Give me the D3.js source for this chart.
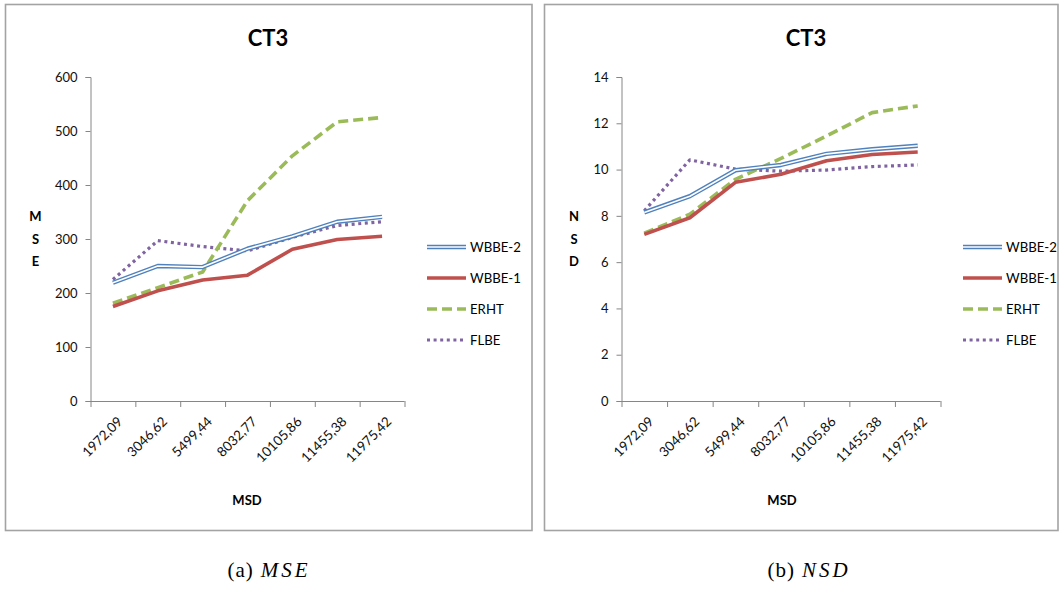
<!DOCTYPE html>
<html>
<head>
<meta charset="utf-8">
<script src="https://cdn.jsdelivr.net/npm/d3@7"></script>
<style>
  html, body { margin: 0; padding: 0; background: #fff; }
  svg { display: block; }
  .tick text { font-family: Lato, "Open Sans", sans-serif; }
</style>
</head>
<body>
<svg id="fig" width="1060" height="596"></svg>
<script>
// MSD categories shared by both panels
const categories = ["1972,09", "3046,62", "5499,44", "8032,77", "10105,86", "11455,38", "11975,42"];
const seriesNames = ["WBBE-2", "WBBE-1", "ERHT", "FLBE"];

// Panel (a): MSE
const mseWBBE2 = [219, 250, 248, 282, 305, 332, 341];
const mseWBBE1 = [175, 204, 224, 233, 281, 299, 305];
const mseERHT  = [181, 210, 239, 371, 454, 517, 525];
const mseFLBE  = [225, 297, 286, 278, 303, 325, 332];
const mseTicks = [0, 100, 200, 300, 400, 500, 600];

// Panel (b): NSD
const nsdWBBE2 = [8.15, 8.85, 9.97, 10.2, 10.68, 10.88, 11.03];
const nsdWBBE1 = [7.2, 7.92, 9.45, 9.8, 10.38, 10.65, 10.76];
const nsdERHT  = [7.25, 8.07, 9.58, 10.48, 11.45, 12.46, 12.75];
const nsdFLBE  = [8.22, 10.42, 10.02, 9.93, 9.98, 10.13, 10.2];
const nsdTicks = [0, 2, 4, 6, 8, 10, 12, 14];

const FONT = "Lato, 'Open Sans', sans-serif";
const SERIF = "'Liberation Serif', 'DejaVu Serif', serif";

// line appearance per series
const styles = {
  "WBBE-2": { color: "#4f81bd", width: 4.4, double: true },
  "WBBE-1": { color: "#c0504d", width: 3.6 },
  "ERHT":   { color: "#9bbb59", width: 3.6, dash: "10,5" },
  "FLBE":   { color: "#8064a2", width: 3.2, dash: "3,3.6" }
};

const svg = d3.select("#fig");

function drawStroke(g, pathD, name) {
  const s = styles[name];
  const p = g.append("path")
    .attr("d", pathD)
    .attr("fill", "none")
    .attr("stroke", s.color)
    .attr("stroke-width", s.width)
    .attr("stroke-linejoin", "round");
  if (s.dash) p.attr("stroke-dasharray", s.dash);
  if (s.double) {
    g.append("path")
      .attr("d", pathD)
      .attr("fill", "none")
      .attr("stroke", "#ffffff")
      .attr("stroke-width", 1.6)
      .attr("stroke-linejoin", "round");
  }
}

function panel(cfg) {
  const g = svg.append("g");

  // frame
  g.append("rect")
    .attr("x", cfg.frame[0]).attr("y", cfg.frame[1])
    .attr("width", cfg.frame[2]).attr("height", cfg.frame[3])
    .attr("fill", "#fff").attr("stroke", "#a3a3a3").attr("stroke-width", 1.6);

  // title
  g.append("text")
    .attr("x", cfg.titleX).attr("y", 46)
    .attr("text-anchor", "middle")
    .attr("font-family", FONT).attr("font-weight", 700).attr("font-size", 22)
    .attr("fill", "#000")
    .text("CT3");

  const x = d3.scaleBand().domain(categories).range([cfg.left, cfg.right]).padding(0);
  const y = d3.scaleLinear().domain([cfg.ticks[0], cfg.ticks[cfg.ticks.length - 1]]).range([401, 77]);

  // y axis
  const yAxis = g.append("g")
    .attr("transform", `translate(${cfg.left},0)`)
    .call(d3.axisLeft(y).tickValues(cfg.ticks).tickSize(5).tickPadding(8).tickFormat(d3.format("d")));
  yAxis.select(".domain").attr("stroke", "#868686");
  yAxis.selectAll(".tick line").attr("stroke", "#868686");
  yAxis.selectAll(".tick text")
    .attr("font-size", 13).attr("fill", "#111").attr("font-family", FONT);

  // x axis: line plus ticks at category boundaries
  const edges = categories.map(c => x(c)).concat([cfg.right]);
  g.append("line")
    .attr("x1", cfg.left).attr("x2", cfg.right)
    .attr("y1", y(0) + 0.5).attr("y2", y(0) + 0.5)
    .attr("stroke", "#868686");
  g.selectAll(".xedge").data(edges).enter().append("line")
    .attr("x1", d => d + 0.5).attr("x2", d => d + 0.5)
    .attr("y1", y(0)).attr("y2", y(0) + 6)
    .attr("stroke", "#868686");

  // rotated category labels
  g.selectAll(".xlab").data(categories).enter().append("text")
    .attr("transform", d => `translate(${x(d) + x.bandwidth() / 2 + 7},${y(0) + 18}) rotate(-45)`)
    .attr("text-anchor", "end")
    .attr("dy", "0.35em")
    .attr("font-family", FONT).attr("font-size", 13.5).attr("fill", "#111")
    .text(d => d);

  // axis titles
  g.append("text")
    .attr("x", cfg.xTitleX).attr("y", 505)
    .attr("text-anchor", "middle")
    .attr("font-family", FONT).attr("font-weight", 700).attr("font-size", 13)
    .attr("fill", "#000")
    .text("MSD");
  cfg.yTitle.split("").forEach((ch, i) => {
    g.append("text")
      .attr("x", cfg.yTitleX).attr("y", 221 + i * 22.5)
      .attr("text-anchor", "middle")
      .attr("font-family", FONT).attr("font-weight", 700).attr("font-size", 13)
      .attr("fill", "#000")
      .text(ch);
  });

  // series lines
  const line = d3.line()
    .x((d, i) => x(categories[i]) + x.bandwidth() / 2)
    .y(d => y(d));
  const order = ["FLBE", "ERHT", "WBBE-1", "WBBE-2"];
  order.forEach(name => drawStroke(g.append("g"), line(cfg.data[name]), name));

  // legend
  const rowsY = [247, 278, 309, 340];
  seriesNames.forEach((name, i) => {
    const lg = g.append("g");
    drawStroke(lg, `M${cfg.legendX},${rowsY[i]}H${cfg.legendX + 39}`, name);
    lg.append("text")
      .attr("x", cfg.legendX + 43).attr("y", rowsY[i])
      .attr("dy", "0.36em")
      .attr("font-family", FONT).attr("font-size", 13.2).attr("fill", "#000")
      .text(name);
  });

  // caption below the frame
  const cap = g.append("text")
    .attr("x", cfg.captionX).attr("y", 577)
    .attr("text-anchor", "middle")
    .attr("font-family", SERIF)
    .attr("font-size", 21).attr("fill", "#000");
  cap.append("tspan").attr("letter-spacing", 1).text(cfg.captionTag);
  cap.append("tspan").attr("dx", 7).attr("font-style", "italic")
    .attr("letter-spacing", 3).text(cfg.yTitle);
}

panel({
  frame: [5.5, 4.5, 526.5, 526],
  titleX: 268,
  left: 90.5, right: 404.5,
  ticks: mseTicks,
  yTitle: "MSE", yTitleX: 35.5,
  xTitleX: 247,
  legendX: 427,
  captionX: 269, captionTag: "(a)",
  data: { "WBBE-2": mseWBBE2, "WBBE-1": mseWBBE1, "ERHT": mseERHT, "FLBE": mseFLBE }
});

panel({
  frame: [544.5, 4.5, 513.5, 526],
  titleX: 806,
  left: 621.5, right: 940.5,
  ticks: nsdTicks,
  yTitle: "NSD", yTitleX: 574,
  xTitleX: 782,
  legendX: 963,
  captionX: 809, captionTag: "(b)",
  data: { "WBBE-2": nsdWBBE2, "WBBE-1": nsdWBBE1, "ERHT": nsdERHT, "FLBE": nsdFLBE }
});
</script>
</body>
</html>
